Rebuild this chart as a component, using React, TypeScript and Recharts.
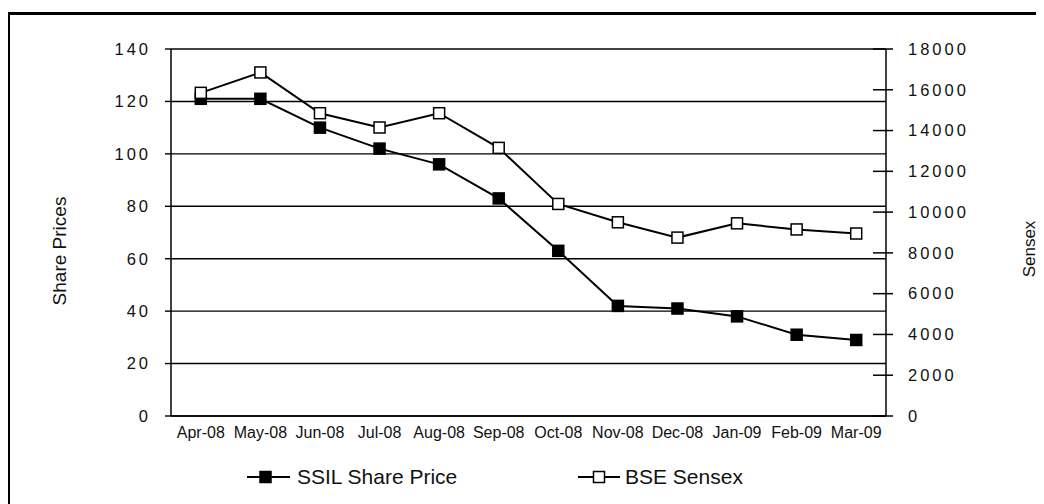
import { LineChart, Line, XAxis, YAxis, CartesianGrid } from "recharts";

const months = [
  "Apr-08", "May-08", "Jun-08", "Jul-08", "Aug-08", "Sep-08",
  "Oct-08", "Nov-08", "Dec-08", "Jan-09", "Feb-09", "Mar-09",
];
const ssilPrice = [121, 121, 110, 102, 96, 83, 63, 42, 41, 38, 31, 29];
const bseSensex = [15850, 16850, 14850, 14150, 14850, 13150, 10400, 9500, 8750, 9450, 9150, 8950];
const priceTicks = [0, 20, 40, 60, 80, 100, 120, 140];
const sensexTicks = [0, 2000, 4000, 6000, 8000, 10000, 12000, 14000, 16000, 18000];

const data = months.map((m, i) => ({ month: m, ssil: ssilPrice[i], bse: bseSensex[i] }));

const FONT = "'Liberation Sans', Arial, sans-serif";
const NARROW = "'Liberation Sans Narrow', 'Arial Narrow', 'Liberation Sans', Arial, sans-serif";

// square markers, filled or open
const squareDot = (fill: string) => (props: any) => {
  const { cx, cy, index } = props;
  if (cx == null || cy == null) return <g key={index} />;
  return (
    <rect
      key={index}
      x={cx - 5.5}
      y={cy - 5.5}
      width={11}
      height={11}
      fill={fill}
      stroke="#000"
      strokeWidth={1.5}
    />
  );
};

// right axis tick crosses the axis line
const SensexTick = (props: any) => {
  const { x, y, payload } = props;
  return (
    <g>
      <line x1={x - 13} x2={x + 7} y1={y} y2={y} stroke="#000" strokeWidth={1.5} />
      <text
        x={x + 22}
        y={y}
        dy="0.35em"
        fontSize={16.5}
        letterSpacing={3}
        fontFamily={FONT}
        fill="#111"
      >
        {payload.value}
      </text>
    </g>
  );
};

export default function App() {
  return (
    <div style={{ position: "relative", width: 1036, height: 496, overflow: "hidden", fontFamily: FONT }}>
      {/* outer frame */}
      <div style={{ position: "absolute", left: 0, top: 4, width: 1036, height: 3, background: "#000" }} />
      <div style={{ position: "absolute", left: 0, top: 4, width: 2, height: 500, background: "#000" }} />

      <LineChart width={1036} height={496} data={data} margin={{ top: 41, right: 0, left: 0, bottom: 0 }}>
        <CartesianGrid vertical={false} stroke="#000" strokeWidth={1.4} yAxisId="left" />
        <XAxis
          dataKey="month"
          scale="band"
          height={88}
          tickSize={0}
          tickMargin={11}
          interval={0}
          axisLine={{ stroke: "#000", strokeWidth: 1.5 }}
          tickLine={false}
          tick={{ fontSize: 16, fill: "#111", fontFamily: NARROW }}
        />
        <YAxis
          yAxisId="left"
          orientation="left"
          width={163}
          domain={[0, 140]}
          ticks={priceTicks}
          interval={0}
          tickSize={6}
          tickMargin={14}
          axisLine={{ stroke: "#000", strokeWidth: 1.5 }}
          tickLine={{ stroke: "#000", strokeWidth: 1.4 }}
          tick={{ fontSize: 16.5, fill: "#111", fontFamily: FONT, letterSpacing: 3 }}
        />
        <YAxis
          yAxisId="right"
          orientation="right"
          width={158}
          domain={[0, 18000]}
          ticks={sensexTicks}
          interval={0}
          tickSize={0}
          tickMargin={0}
          axisLine={{ stroke: "#000", strokeWidth: 1.5 }}
          tickLine={false}
          tick={<SensexTick />}
        />
        <Line
          yAxisId="left"
          dataKey="ssil"
          type="linear"
          stroke="#000"
          strokeWidth={2}
          dot={squareDot("#000")}
          isAnimationActive={false}
        />
        <Line
          yAxisId="right"
          dataKey="bse"
          type="linear"
          stroke="#000"
          strokeWidth={2}
          dot={squareDot("#fff")}
          isAnimationActive={false}
        />
      </LineChart>

      {/* axis titles */}
      <div
        style={{
          position: "absolute",
          left: 52,
          top: 243,
          transform: "translate(-50%, -50%) rotate(-90deg)",
          fontSize: 19,
          whiteSpace: "nowrap",
          color: "#111",
        }}
      >
        Share Prices
      </div>
      <div
        style={{
          position: "absolute",
          left: 1022,
          top: 241,
          transform: "translate(-50%, -50%) rotate(-90deg)",
          fontSize: 17,
          whiteSpace: "nowrap",
          color: "#111",
        }}
      >
        Sensex
      </div>

      {/* legend */}
      <svg style={{ position: "absolute", left: 0, top: 449 }} width={1036} height={40}>
        <line x1={239} x2={282} y1={20} y2={20} stroke="#000" strokeWidth={2} />
        <rect x={252} y={14.5} width={11} height={11} fill="#000" stroke="#000" strokeWidth={1.5} />
        <text x={289} y={20} dy="0.35em" fontSize={21} fontFamily={FONT} fill="#111">
          SSIL Share Price
        </text>
        <line x1={570} x2={612} y1={20} y2={20} stroke="#000" strokeWidth={2} />
        <rect x={585.5} y={14.5} width={11} height={11} fill="#fff" stroke="#000" strokeWidth={1.5} />
        <text x={617} y={20} dy="0.35em" fontSize={21} fontFamily={FONT} fill="#111">
          BSE Sensex
        </text>
      </svg>
    </div>
  );
}
